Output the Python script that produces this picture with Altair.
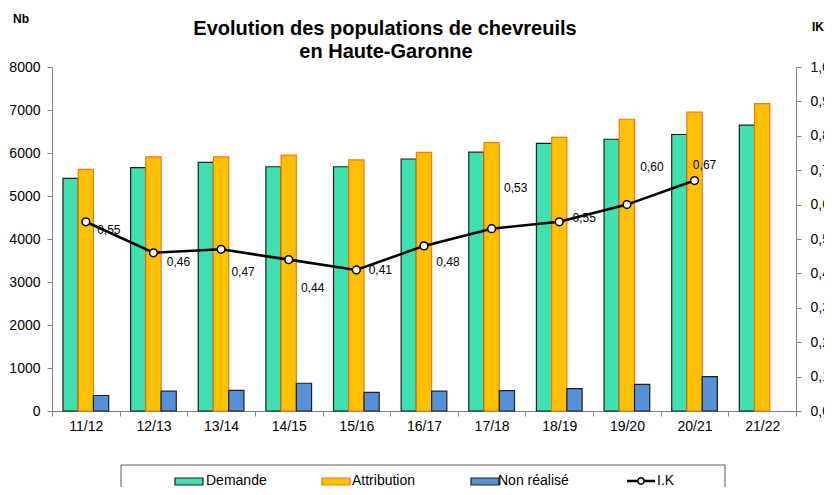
import altair as alt
import pandas as pd

# ---------------- data ----------------
cats = ["11/12", "12/13", "13/14", "14/15", "15/16", "16/17", "17/18", "18/19", "19/20", "20/21", "21/22"]
demande = [5410, 5660, 5780, 5680, 5680, 5860, 6020, 6225, 6320, 6430, 6650]
attribution = [5620, 5910, 5910, 5950, 5840, 6015, 6240, 6365, 6785, 6950, 7150]
non_realise = [360, 460, 480, 645, 435, 460, 475, 520, 620, 800, None]
ik = [0.55, 0.46, 0.47, 0.44, 0.41, 0.48, 0.53, 0.55, 0.60, 0.67, None]
series = ["Demande", "Attribution", "Non réalisé"]
y_ticks = [0, 1000, 2000, 3000, 4000, 5000, 6000, 7000, 8000]
ik_ticks = [0.0, 0.1, 0.2, 0.3, 0.4, 0.5, 0.6, 0.7, 0.8, 0.9, 1.0]

# ---------------- styles ----------------
FONT = "Liberation Sans"
fills = ["#40E0B0", "#FFC000", "#5590D8"]
strokes = ["#1f1f1f", "#F07A10", "#1f1f1f"]
AXIS_GREY = "#808080"
# label nudges (pixels) for the I.K value labels
label_dx = [23, 25, 22, 24, 24, 24, 24, 25, 25, 10]
label_dy = [8, 9, 23, 28, 0, 16, -41, -4, -38, -16]

rows = []
for i, c in enumerate(cats):
    for s, vals in zip(series, [demande, attribution, non_realise]):
        if vals[i] is not None:
            rows.append({"cat": c, "series": s, "value": vals[i]})
bar_df = pd.DataFrame(rows)

ik_df = pd.DataFrame({"cat": cats[:10], "ik": ik[:10]})

W, H = 744, 344

x_enc = alt.X(
    "cat:N", sort=cats,
    scale=alt.Scale(paddingInner=0, paddingOuter=0),
    axis=alt.Axis(
        title=None, labelAngle=0, tickBand="extent", tickSize=5,
        domainColor=AXIS_GREY, tickColor=AXIS_GREY, labelColor="black",
        labelFont=FONT, labelFontSize=14, labelPadding=3,
    ),
)

bars = alt.Chart(bar_df).mark_bar(strokeWidth=1.2).encode(
    x=x_enc,
    xOffset=alt.XOffset("series:N", sort=series,
                        scale=alt.Scale(domain=series, paddingInner=0, paddingOuter=0.72)),
    y=alt.Y("value:Q", scale=alt.Scale(domain=[0, 8000], nice=False),
            axis=alt.Axis(values=y_ticks, format="d", title=None, grid=False, tickSize=5,
                          labelOverlap=False,
                          domainColor=AXIS_GREY, tickColor=AXIS_GREY, labelColor="black",
                          labelFont=FONT, labelFontSize=14, labelPadding=7)),
    fill=alt.Fill("series:N", scale=alt.Scale(domain=series, range=fills), legend=None),
    stroke=alt.Stroke("series:N", scale=alt.Scale(domain=series, range=strokes), legend=None),
)

ik_base = alt.Chart(ik_df).transform_calculate(
    label="replace(format(datum.ik, '.2f'), '.', ',')"
)
y_ik = alt.Y(
    "ik:Q", scale=alt.Scale(domain=[0, 1], nice=False),
    axis=alt.Axis(orient="right", values=ik_ticks, title=None, grid=False, tickSize=5,
                  labelOverlap=False,
                  labelExpr="replace(format(datum.value, '.2f'), '.', ',')",
                  domainColor=AXIS_GREY, tickColor=AXIS_GREY, labelColor="black",
                  labelFont=FONT, labelFontSize=14, labelPadding=9),
)
line = ik_base.mark_line(color="black", strokeWidth=2.6).encode(x=x_enc, y=y_ik)
pts = ik_base.mark_circle(color="white", stroke="black", strokeWidth=1.5,
                          size=60, opacity=1).encode(x=x_enc, y=y_ik)
labels = []
for i, c in enumerate(cats[:10]):
    labels.append(
        ik_base.transform_filter(alt.datum.cat == c)
        .mark_text(dx=label_dx[i], dy=label_dy[i], fontSize=12, font=FONT,
                   color="black", align="center", baseline="middle")
        .encode(x=x_enc, y=y_ik, text="label:N")
    )
ik_layer = alt.layer(line, pts, *labels)

one = alt.Data(values=[{"k": 0}])


def txt(s, x, y, size, bold=False, align="left", baseline="alphabetic"):
    return alt.Chart(one).mark_text(
        text=s, fontSize=size, font=FONT, fontWeight="bold" if bold else "normal",
        align=align, baseline=baseline, color="black"
    ).encode(x=alt.value(x), y=alt.value(y))


extras = [
    txt("Evolution des populations de chevreuils", 333, -32, 20, True, "center"),
    txt("en Haute-Garonne", 334, -9, 20, True, "center"),
    txt("Nb", -39, -44, 12, True),
    txt("IK", 760, -36, 12, True),
]

# legend box
extras.append(
    alt.Chart(one).mark_rect(fillOpacity=0, stroke="#595959", strokeWidth=1).encode(
        x=alt.value(69), x2=alt.value(673), y=alt.value(398), y2=alt.value(460)
    )
)
LY = 414
sw_x = [123, 270, 419]
tx_x = [154, 300, 446]
for i, s in enumerate(series):
    extras.append(
        alt.Chart(one).mark_rect(fill=fills[i], stroke=strokes[i], strokeWidth=1.2).encode(
            x=alt.value(sw_x[i]), x2=alt.value(sw_x[i] + 28), y=alt.value(LY - 3), y2=alt.value(LY + 4)
        )
    )
    extras.append(txt(s, tx_x[i], LY, 14, False, "left", "middle"))
extras.append(
    alt.Chart(one).mark_rule(color="black", strokeWidth=2.5).encode(
        x=alt.value(575), x2=alt.value(603), y=alt.value(LY)
    )
)
extras.append(
    alt.Chart(one).mark_circle(color="white", stroke="black", strokeWidth=1.5, size=40, opacity=1).encode(
        x=alt.value(589), y=alt.value(LY)
    )
)
extras.append(txt("I.K", 605, LY, 14, False, "left", "middle"))

chart = alt.layer(bars, ik_layer, *extras).resolve_scale(y="independent").properties(
    width=W, height=H,
    autosize=alt.AutoSizeParams(type="none"),
    padding={"left": 44, "top": 59, "right": 28, "bottom": 76},
).configure_view(strokeWidth=0)

chart.save("out.html", embed_options={"renderer": "svg", "actions": False})
